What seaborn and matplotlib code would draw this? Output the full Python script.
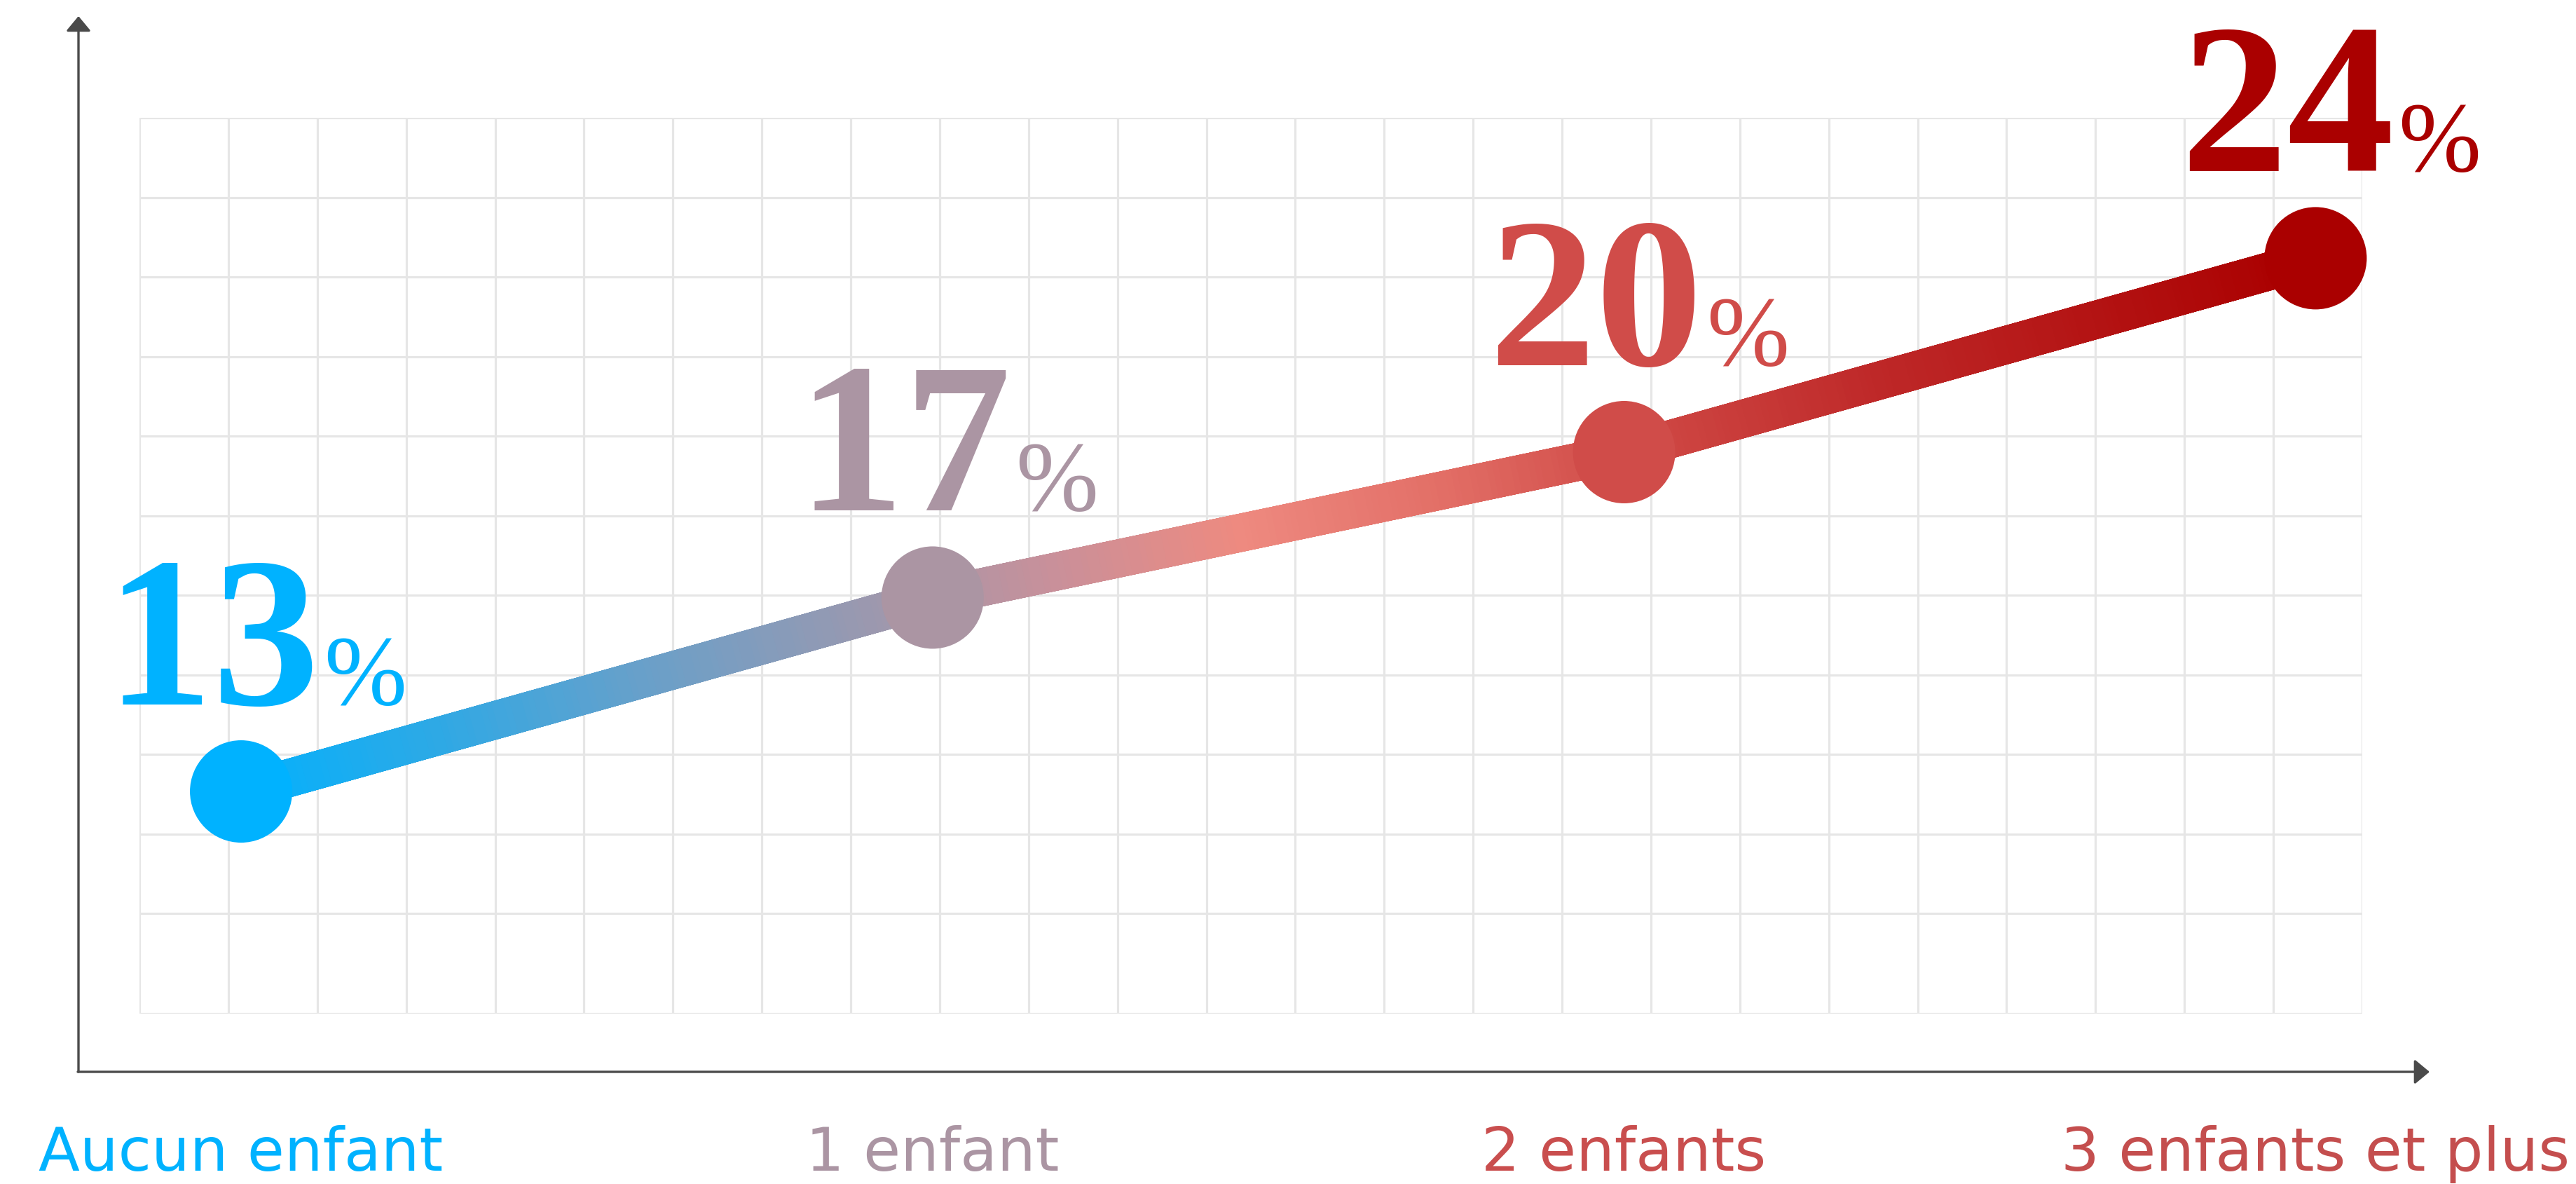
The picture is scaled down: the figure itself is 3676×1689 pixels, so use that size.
import numpy as np
import pandas as pd
import matplotlib
matplotlib.use("Agg")
import matplotlib.pyplot as plt
import matplotlib.transforms as mtransforms
from matplotlib.collections import LineCollection
from matplotlib.colors import LinearSegmentedColormap
import seaborn as sns

# ---- data ----
categories = ["Aucun enfant", "1 enfant", "2 enfants", "3 enfants et plus"]
values = [13, 17, 20, 24]
value_labels = ["13", "17", "20", "24"]

# ---- styles ----
marker_colors = ["#00B2FF", "#AB95A3", "#D04C49", "#AA0000"]
label_colors = ["#00B2FF", "#AB95A3", "#C94E4E", "#C44E4E"]
number_colors = ["#00B2FF", "#AB95A3", "#D04C49", "#AA0000"]
grad_stops = [(0.0, "#00B2FF"), (0.10, "#2DA9E6"), (0.20, "#68A0CA"),
              (0.30, "#9699B2"), (0.333, "#A797A8"), (0.40, "#C9909A"),
              (0.49, "#EE8A80"), (0.59, "#E26E66"), (0.667, "#D24E4A"),
              (0.80, "#BE2828"), (1.0, "#AA0000")]

sns.set_theme(style="white")
plt.rcParams["font.family"] = ["DejaVu Sans"]

W, H = 3676, 1690
fig = plt.figure(figsize=(W / 100, H / 100), dpi=100)
fig.patch.set_facecolor("white")

# axes region (pixels, from top-left)
gl, gr, gt, gb = 199, 3371, 169, 1447
rect = [gl / W, (H - gb) / H, (gr - gl) / W, (gb - gt) / H]

# ---- background grid ----
gax = fig.add_axes(rect, zorder=0)
gax.set_xlim(0, 25)
gax.set_ylim(0, gb - gt)
gax.set_xticks(np.arange(0, 26))
gax.set_yticks([0] + [(gb - gt) - k * 113.5 for k in range(11)])
gax.tick_params(length=0, labelbottom=False, labelleft=False)
gax.grid(True, color="#E6E6E6", linewidth=2.3)
for s in gax.spines.values():
    s.set_visible(False)
gax.patch.set_alpha(0)

# ---- main axes ----
ax = fig.add_axes(rect, zorder=2)
ax.patch.set_alpha(0)
for s in ax.spines.values():
    s.set_visible(False)
ax.set_xticks([])
ax.set_yticks([])
ax.set_xlim(-0.147, 3.0675)
ax.set_ylim(8.416, 26.898)

df = pd.DataFrame({"pos": np.arange(len(categories)), "value": values,
                   "category": categories})

lw_pt = 54 * 0.72
sns.lineplot(data=df, x="pos", y="value", color="#C98A90", linewidth=lw_pt,
             ax=ax, zorder=3, solid_capstyle="butt", legend=False)
for ln in ax.lines:
    ln.set_clip_on(False)

# gradient overlay
cmap = LinearSegmentedColormap.from_list("grad", grad_stops)
segs, cols = [], []
xs_all = df["pos"].to_numpy(dtype=float)
ys_all = df["value"].to_numpy(dtype=float)
for i in range(len(xs_all) - 1):
    t = np.linspace(0, 1, 120)
    xx = xs_all[i] + (xs_all[i + 1] - xs_all[i]) * t
    yy = ys_all[i] + (ys_all[i + 1] - ys_all[i]) * t
    pts = np.column_stack([xx, yy])
    for j in range(len(pts) - 1):
        segs.append(pts[j:j + 2])
        cols.append(cmap(((xx[j] + xx[j + 1]) / 2) / xs_all[-1]))
lc = LineCollection(segs, colors=cols, linewidths=lw_pt, capstyle="projecting", zorder=4)
lc.set_clip_on(False)
ax.add_collection(lc)

n_before = len(ax.collections)
sns.scatterplot(data=df, x="pos", y="value", hue="category", palette=marker_colors,
                s=(146 * 0.72) ** 2, linewidth=0, legend=False, ax=ax, zorder=5)
for c in ax.collections[n_before:]:
    c.set_clip_on(False)
ax.set_xlabel("")
ax.set_ylabel("")

# value labels
for i, (lab, v) in enumerate(zip(value_labels, values)):
    ax.annotate(lab, xy=(i, v), xytext=(112, 125), textcoords="offset pixels",
                ha="right", va="baseline", fontsize=220, fontweight="bold",
                family=["Liberation Serif", "DejaVu Serif"], color=number_colors[i],
                zorder=6, annotation_clip=False)
    ax.annotate("%", xy=(i, v), xytext=(118, 125), textcoords="offset pixels",
                ha="left", va="baseline", fontsize=102, fontweight="normal",
                family=["Liberation Serif", "DejaVu Serif"], color=number_colors[i],
                zorder=6, annotation_clip=False)

# category labels
btrans = mtransforms.blended_transform_factory(ax.transData, ax.transAxes)
label_y = (20 - (H - gb)) / (gb - gt)
for i, cat in enumerate(categories):
    ax.text(i, label_y, cat, transform=btrans, ha="center", va="baseline",
            fontsize=62, color=label_colors[i], family=["DejaVu Sans"])

# ---- axis arrows (overlay) ----
oax = fig.add_axes([0, 0, 1, 1], zorder=1)
oax.set_xlim(0, W)
oax.set_ylim(H, 0)
oax.axis("off")
oax.patch.set_alpha(0)
arrow_kw = dict(arrowstyle="-|>,head_length=0.65,head_width=0.54", color="#4A4A4A",
                lw=2.4, shrinkA=0, shrinkB=0, mutation_scale=20)
oax.annotate("", xy=(112, 24), xytext=(112, 1530), arrowprops=arrow_kw)
oax.annotate("", xy=(3467, 1530), xytext=(111, 1530), arrowprops=arrow_kw)

fig.savefig("out.png", dpi=100, facecolor="white")
